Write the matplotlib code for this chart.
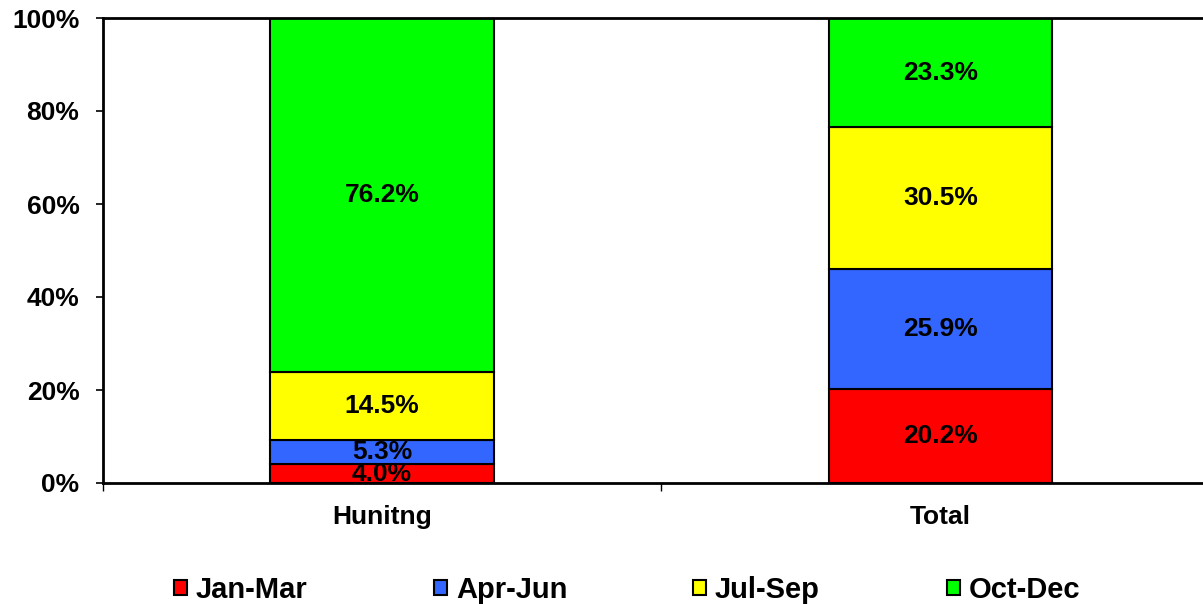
import matplotlib
matplotlib.use('Agg')
import matplotlib.pyplot as plt
from matplotlib.ticker import FixedLocator, FuncFormatter
from matplotlib.patches import Patch

plt.rcParams['font.family'] = ['Liberation Sans', 'DejaVu Sans']
plt.rcParams['font.weight'] = 'bold'

# data (percent of each group)
categories = ['Hunitng', 'Total']
series = ['Jan-Mar', 'Apr-Jun', 'Jul-Sep', 'Oct-Dec']
jan_mar = [4.0, 20.2]
apr_jun = [5.3, 25.9]
jul_sep = [14.5, 30.5]
oct_dec = [76.2, 23.3]
colors = ['#FF0000', '#3366FF', '#FFFF00', '#00FF00']

W, H = 1203, 604
fig = plt.figure(figsize=(W / 100.0, H / 100.0), dpi=100)
# axes runs past the right edge of the picture, as in the original
ax = fig.add_axes([103.0 / W, 121.0 / H, 1116.5 / W, 465.0 / H])

x = list(range(len(categories)))
bottom = [0.0] * len(categories)
handles = []
for name, vals, col in zip(series, [jan_mar, apr_jun, jul_sep, oct_dec], colors):
    bars = ax.bar(x, vals, width=0.4, bottom=bottom, color=col,
                  edgecolor='black', linewidth=1.5, zorder=2)
    for i, b in enumerate(bars):
        ax.text(b.get_x() + b.get_width() / 2.0, bottom[i] + vals[i] / 2.0,
                '%.1f%%' % vals[i], ha='center', va='center',
                fontsize=19, fontweight='bold', zorder=3, clip_on=False)
    bottom = [bt + v for bt, v in zip(bottom, vals)]
    handles.append(Patch(facecolor=col, edgecolor='black', linewidth=1.5))

ax.set_xlim(-0.5, 1.5)
ax.set_ylim(0, 100)

ax.set_yticks([0, 20, 40, 60, 80, 100])
ax.yaxis.set_major_formatter(FuncFormatter(lambda v, p: '%d%%' % v))
ax.tick_params(axis='y', direction='out', length=5, width=1.2, pad=12,
               labelsize=19)

ax.set_xticks(x)
ax.set_xticklabels(categories)
ax.xaxis.set_minor_locator(FixedLocator([-0.5, 0.5, 1.5]))
ax.tick_params(axis='x', which='major', length=0, pad=16, labelsize=19)
ax.tick_params(axis='x', which='minor', direction='out', length=6, width=1.0)
for lbl in ax.get_xticklabels() + ax.get_yticklabels():
    lbl.set_fontweight('bold')

for s in ['left', 'top', 'bottom']:
    ax.spines[s].set_linewidth(2)
ax.spines['right'].set_visible(False)

# legend: one entry per position, like the spreadsheet layout
leg_x = [174, 434, 693, 947]
for h, name, lx in zip(handles, series, leg_x):
    fig.legend(handles=[h], labels=[name], loc='center left',
               bbox_to_anchor=(lx / float(W), 1 - 590.0 / H),
               frameon=False, handlelength=0.45,
               handleheight=0.45, handletextpad=0.3, borderpad=0,
               borderaxespad=0, prop={'weight': 'bold', 'size': 21})

fig.savefig('out.png', dpi=100)
